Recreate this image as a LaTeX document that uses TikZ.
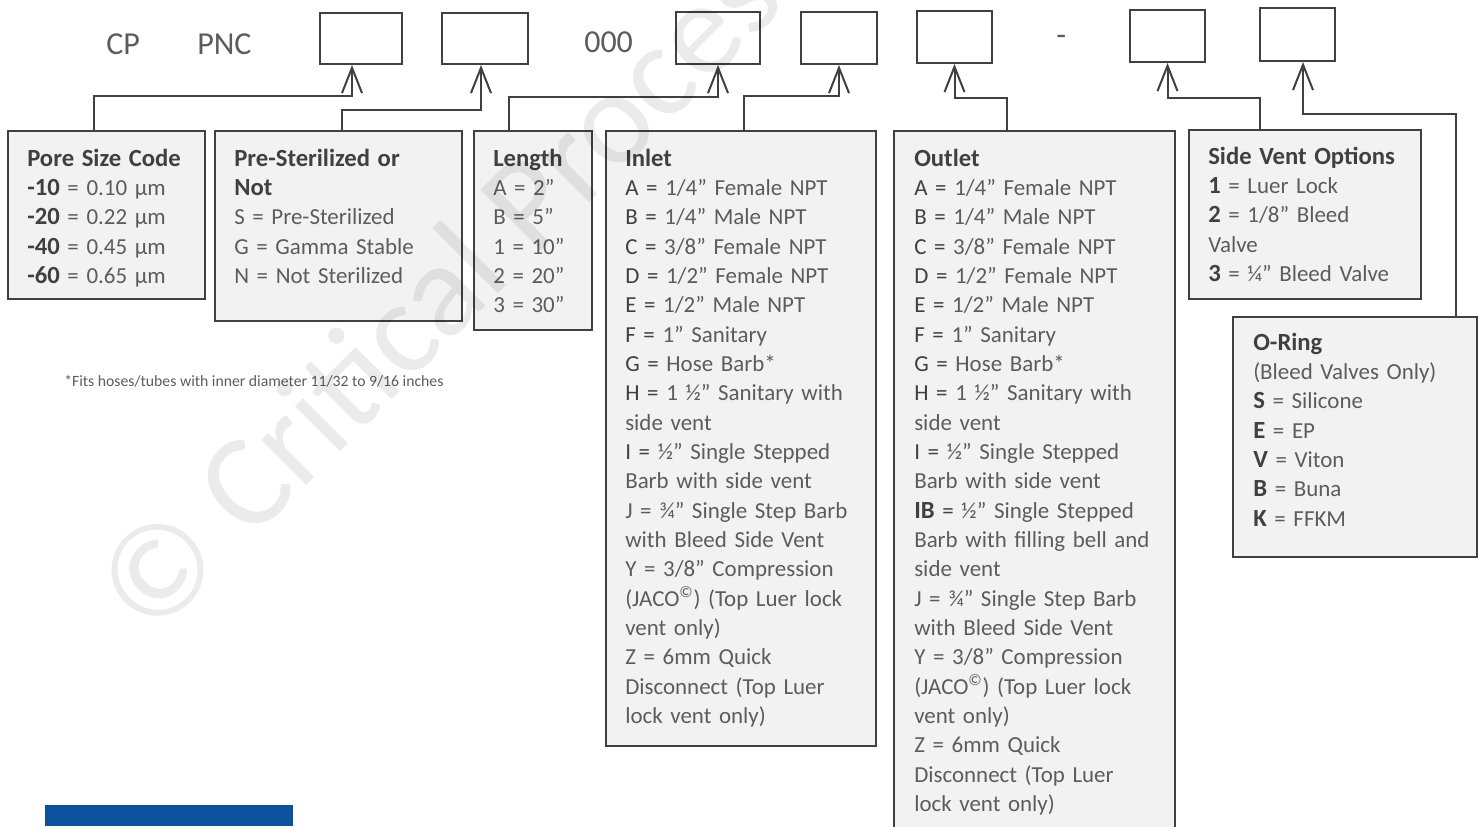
\documentclass[tikz,border=0pt]{standalone}
\usepackage{fontspec}
\setmainfont{Carlito}
\usetikzlibrary{arrows.meta, calc, positioning}
\definecolor{cpLine} {RGB}{ 64, 64, 64}
\definecolor{cpFill} {RGB}{242,242,242}
\definecolor{cpDark} {RGB}{ 64, 64, 64}
\definecolor{cpLight}{RGB}{ 92, 92, 92}
\definecolor{cpBlue} {RGB}{ 10, 82,155}
\newlength{\pxu}\setlength{\pxu}{0.75pt}
\newcommand{\tit}[1]{{\fontsize{18.5}{22}\selectfont\bfseries\color{cpDark}#1}}
\newcommand{\kd}[1]{{\color{cpDark}#1}}

\begin{document}
\begin{tikzpicture}[
  x=0.75pt, y=-0.75pt,
  slot/.style={draw=cpLine, line width=1.5pt, inner sep=0pt, anchor=north west},
  card/.style={draw=cpLine, fill=cpFill, line width=1.5pt, inner sep=0pt,
    anchor=north west},
  body/.style={anchor=base west, inner sep=0pt, text=cpLight, text width=300pt,
    align=left, font=\fontsize{17.2}{22}\selectfont},
  partcode/.style={anchor=base west, inner sep=0pt, text=cpLight,
    font=\fontsize{24}{28}\selectfont},
  note/.style={anchor=base west, inner sep=0pt, text=cpLight,
    font=\fontsize{11.8}{14}\selectfont},
  conn/.style={draw=cpLine, line width=1.5pt,
    -{Straight Barb[length=19pt, width=15pt]}},
  wmark/.style={anchor=base west, inner sep=0pt, text=black, text opacity=0.08,
    font=\fontsize{100}{110}\selectfont, rotate=45},
]
\useasboundingbox (0,0) rectangle (1483,826);

%% Part number row
\node[partcode] (cp)    at (106,54)  {CP};
\node[partcode] (pnc)   at (197,54)  {PNC};
\node[partcode] (zeros) at (584,52)  {000};
\node[partcode] (dash)  at (1056,45) {-};
\foreach \n/\x/\y/\w/\h in {b1/319/12/82/51, b2/441/12/86/51, b3/675/11/84/52,
  b4/800/11/76/52, b5/916/10/75/52, b6/1129/9/75/52, b7/1259/7/75/53}{
  \node[slot, minimum width=\w\pxu, minimum height=\h\pxu] (\n) at (\x,\y) {};
}

%% Option cards
\foreach \n/\x/\y/\w/\h in {pore/7/130/197/168, pre/214/130/247/190,
  len/473/130/118/199, inl/605/130/270/615, outl/893/130/281/720,
  side/1188/129/232/169, oring/1232/316/244/240}{
  \node[card, minimum width=\w\pxu, minimum height=\h\pxu] (\n) at (\x,\y) {};
}

\node[body] (poretxt) at ($(pore.north west)+(20,36)$)
  {\tit{Pore Size Code}\\
   \tit{-10} = 0.10 µm\\ \tit{-20} = 0.22 µm\\
   \tit{-40} = 0.45 µm\\ \tit{-60} = 0.65 µm};
\node[body] (pretxt) at ($(pre.north west)+(20,36)$)
  {\tit{Pre-Sterilized or}\\ \tit{Not}\\
   S = Pre-Sterilized\\ G = Gamma Stable\\ N = Not Sterilized};
\node[body] (lentxt) at ($(len.north west)+(20,36)$)
  {\tit{Length}\\ A = 2”\\ B = 5”\\ 1 = 10”\\ 2 = 20”\\ 3 = 30”};
\node[body] (inltxt) at ($(inl.north west)+(20,36)$)
  {\tit{Inlet}\\
   \kd{A =} 1/4” Female NPT\\ \kd{B =} 1/4” Male NPT\\
   \kd{C =} 3/8” Female NPT\\ \kd{D =} 1/2” Female NPT\\
   \kd{E =} 1/2” Male NPT\\ \kd{F =} 1” Sanitary\\
   \kd{G =} Hose Barb*\\ \kd{H =} 1 ½” Sanitary with\\ side vent\\
   \kd{I =} ½” Single Stepped\\ Barb with side vent\\
   J = ¾” Single Step Barb\\ with Bleed Side Vent\\
   Y = 3/8” Compression\\ (JACO\textsuperscript{©}) (Top Luer lock\\ vent only)\\
   Z = 6mm Quick\\ Disconnect (Top Luer\\ lock vent only)};
\node[body] (outltxt) at ($(outl.north west)+(21,36)$)
  {\tit{Outlet}\\
   \kd{A =} 1/4” Female NPT\\ \kd{B =} 1/4” Male NPT\\
   \kd{C =} 3/8” Female NPT\\ \kd{D =} 1/2” Female NPT\\
   \kd{E =} 1/2” Male NPT\\ \kd{F =} 1” Sanitary\\
   \kd{G =} Hose Barb*\\ \kd{H =} 1 ½” Sanitary with\\ side vent\\
   \kd{I =} ½” Single Stepped\\ Barb with side vent\\
   \tit{IB} \kd{=} ½” Single Stepped\\ Barb with filling bell and\\ side vent\\
   J = ¾” Single Step Barb\\ with Bleed Side Vent\\
   Y = 3/8” Compression\\ (JACO\textsuperscript{©}) (Top Luer lock\\ vent only)\\
   Z = 6mm Quick\\ Disconnect (Top Luer\\ lock vent only)};
\node[body] (sidetxt) at ($(side.north west)+(20,35)$)
  {\tit{Side Vent Options}\\
   \tit{1} = Luer Lock\\ \tit{2} = 1/8” Bleed\\ Valve\\ \tit{3} = ¼” Bleed Valve};
\node[body] (oringtxt) at ($(oring.north west)+(21,34)$)
  {\tit{O-Ring}\\ (Bleed Valves Only)\\
   \tit{S} = Silicone\\ \tit{E} = EP\\ \tit{V} = Viton\\ \tit{B} = Buna\\ \tit{K} = FFKM};

%% Footnote and logo strip
\node[note] (fits) at (64,386)
  {*Fits hoses/tubes with inner diameter 11/32 to 9/16 inches};
\fill[cpBlue] (45,805) rectangle (293,826);

%% Connectors card -> slot
\foreach \lo/\lx/\up/\ux/\hy in {pore/87/b1/-9/31, pre/128/b2/-4/45,
  len/36/b3/0/32, inl/139/b4/0/31, outl/114/b5/0/34, side/72/b6/0/35,
  oring/224/b7/5.5/52}{
  \draw[conn] ($(\lo.north west)+(\lx,0)$) |- ($(\up.south)+(\ux,\hy)$)
    -- ($(\up.south)+(\ux,0)$);
}

%% Watermark
\begin{scope}
  \clip (0,0) rectangle (1483,826);
  \node[wmark] (wm) at (150,642) {© Critical Process};
\end{scope}
\end{tikzpicture}
\end{document}
